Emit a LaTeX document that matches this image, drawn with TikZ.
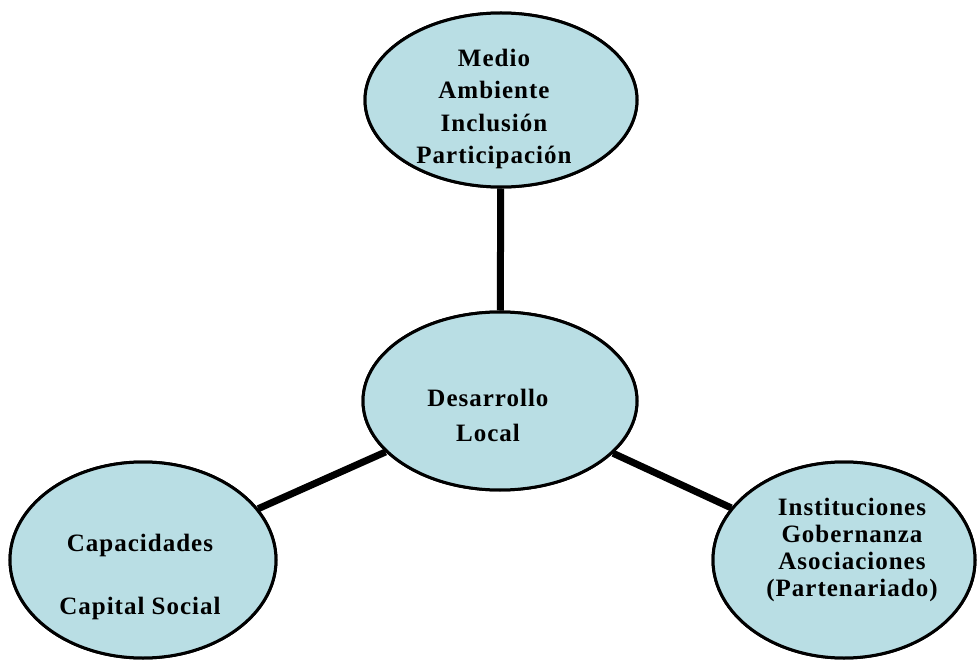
\documentclass[tikz,border=0pt]{standalone}
\usepackage{fontspec}
\setmainfont{Liberation Serif}[LetterSpace=4]
\usetikzlibrary{shapes.geometric}
\definecolor{ellfill}{RGB}{185,222,228}
\tikzset{
  blob/.style={ellipse, draw=black, line width=3pt, fill=ellfill, inner sep=0pt},
  lbl/.style={align=center, inner sep=0pt, font=\bfseries\fontsize{25}{#1}\selectfont},
  link/.style={line width=7pt, draw=black}
}
\begin{document}
\begin{tikzpicture}[x=1pt,y=-1pt]
\useasboundingbox[fill=white] (0,0) rectangle (978,663);
% ellipses
\node[blob, minimum width=272pt, minimum height=174pt] (top) at (501,100) {};
\node[blob, minimum width=274pt, minimum height=178pt] (mid) at (500,401) {};
\node[blob, minimum width=266pt, minimum height=196pt] (left) at (143,560) {};
\node[blob, minimum width=262pt, minimum height=196pt] (right) at (844,560) {};
% connectors
\draw[link] (mid) -- (top);
\draw[link] (mid) -- (left);
\draw[link] (mid) -- (right);
% redraw ellipse outlines on top of connectors
\node[blob, minimum width=272pt, minimum height=174pt] (topb) at (501,100) {};
\node[blob, minimum width=274pt, minimum height=178pt] (midb) at (500,401) {};
\node[blob, minimum width=266pt, minimum height=196pt] (leftb) at (143,560) {};
\node[blob, minimum width=262pt, minimum height=196pt] (rightb) at (844,560) {};
% labels
\node[lbl=32.5] (ttop) at (494,109) {Medio\\Ambiente\\Inclusión\\Participación};
\node[lbl=35] (tmid) at (488,415) {Desarrollo\\Local};
\node[lbl=63] (tleft) at (140,577) {Capacidades\\Capital Social};
\node[lbl=27.3] (tright) at (852,550) {Instituciones\\Gobernanza\\Asociaciones\\(Partenariado)};
\end{tikzpicture}
\end{document}
